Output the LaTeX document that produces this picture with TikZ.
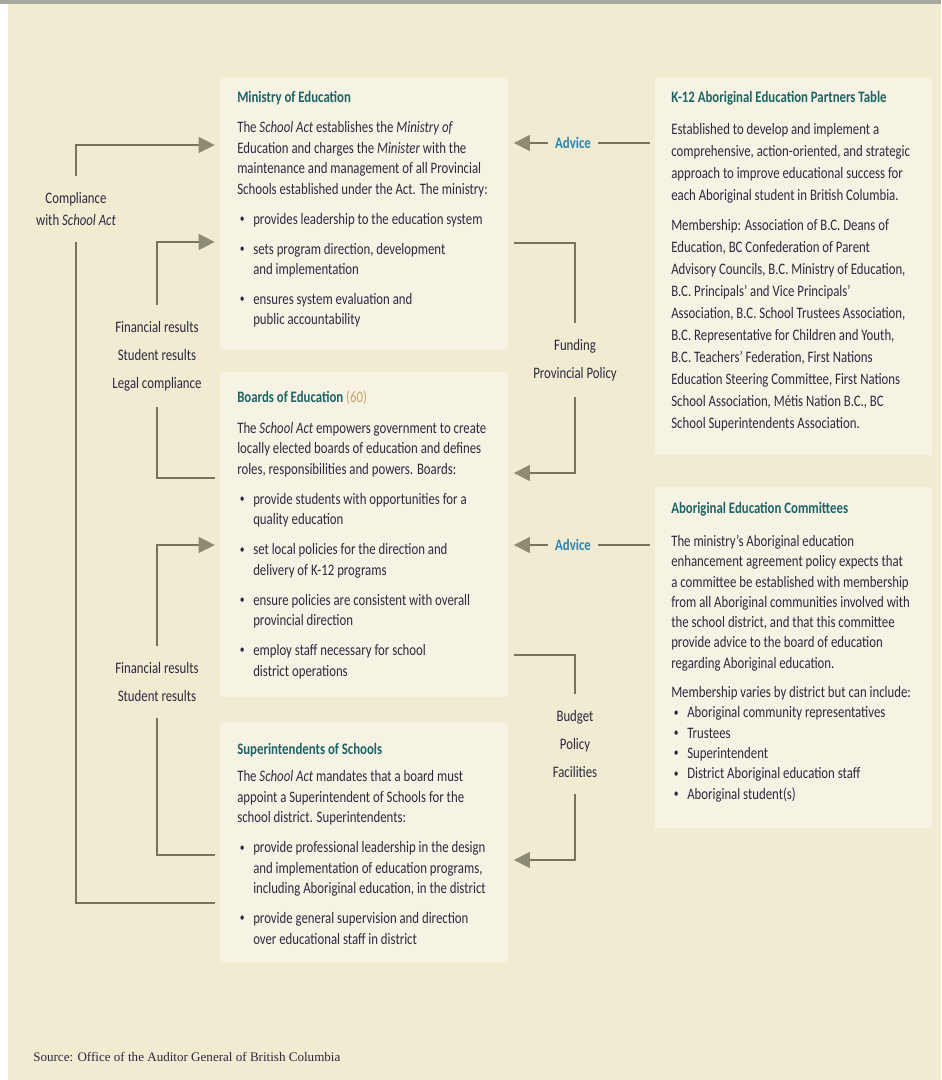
\documentclass[tikz,border=0pt]{standalone}
\usepackage{fontspec}
\setmainfont{Carlito}[FakeStretch=0.8]
\newfontfamily\srcfont{Liberation Serif}
\usetikzlibrary{arrows.meta}

\definecolor{pagebg}{HTML}{F1EBD1}
\definecolor{boxbg}{HTML}{F7F3E4}
\definecolor{topbar}{HTML}{A9A89E}
\definecolor{linec}{HTML}{77735E}
\definecolor{tipc}{HTML}{8E8B74}
\definecolor{bodyc}{HTML}{2B2A40}
\definecolor{titlec}{HTML}{1C6466}
\definecolor{advc}{HTML}{2B85B3}
\definecolor{numc}{HTML}{C5A26C}

\newcommand{\bul}{\hspace*{2pt}\makebox[10pt][l]{\raisebox{0.2ex}{\scalebox{0.75}{\textbullet}}}}
\newcommand{\ind}{\hspace*{12pt}}

\begin{document}
\begin{tikzpicture}[x=0.75pt,y=-0.75pt]
    \tikzstyle{box}=[fill=boxbg, anchor=north west, inner sep=0pt]
    \tikzstyle{ttl}=[anchor=base west, inner sep=0pt, text=titlec, font=\fontsize{12pt}{14pt}\selectfont\bfseries]
    \tikzstyle{txt}=[anchor=base west, align=left, inner sep=0pt, text=bodyc, font=\fontsize{12pt}{15.4pt}\selectfont]
    \tikzstyle{lbl}=[align=center, inner xsep=3pt, inner ysep=12pt, text=bodyc, font=\fontsize{12pt}{21pt}\selectfont]
    \tikzstyle{adv}=[inner xsep=5pt, inner ysep=2pt, text=advc, font=\fontsize{12pt}{14pt}\selectfont\bfseries]
    \tikzstyle{link}=[draw=linec, line width=0.8pt, shorten <=4pt]
    \tikzstyle{arr}=[draw=linec, line width=0.8pt, shorten >=4pt, -{Triangle[length=12pt,width=12pt,color=tipc,fill=tipc]}]

    \useasboundingbox (0,0) rectangle (941,1080);
    \fill[pagebg] (8,4) rectangle (941,1080);
    \fill[topbar] (0,0) rectangle (941,4);

    \node[box, minimum width=216pt, minimum height=204pt] (min) at (220,78) {};
    \node[box, minimum width=216pt, minimum height=243.75pt] (brd) at (220,372) {};
    \node[box, minimum width=216pt, minimum height=180pt] (sup) at (220,722) {};
    \node[box, minimum width=207.75pt, minimum height=282.75pt] (k12) at (655,78) {};
    \node[box, minimum width=207.75pt, minimum height=255.75pt] (abo) at (655,487) {};

    \node[ttl] (mint) at (237,103) {Ministry of Education};
    \node[txt] (minb) at (237,325) {The \emph{School Act} establishes the \emph{Ministry of}\\
        Education and charges the \emph{Minister} with the\\
        maintenance and management of all Provincial\\
        Schools established under the Act. The ministry:\\[7pt]
        \bul provides leadership to the education system\\[7pt]
        \bul sets program direction, development\\
        \ind and implementation\\[7pt]
        \bul ensures system evaluation and\\
        \ind public accountability};

    \node[ttl] (brdt) at (237,402) {Boards of Education {\mdseries\color{numc}(60)}};
    \node[txt] (brdb) at (237,676) {The \emph{School Act} empowers government to create\\
        locally elected boards of education and defines\\
        roles, responsibilities and powers. Boards:\\[7pt]
        \bul provide students with opportunities for a\\
        \ind quality education\\[7pt]
        \bul set local policies for the direction and\\
        \ind delivery of K-12 programs\\[7pt]
        \bul ensure policies are consistent with overall\\
        \ind provincial direction\\[7pt]
        \bul employ staff necessary for school\\
        \ind district operations};

    \node[ttl] (supt) at (237,754) {Superintendents of Schools};
    \node[txt] (supb) at (237,944) {The \emph{School Act} mandates that a board must\\
        appoint a Superintendent of Schools for the\\
        school district. Superintendents:\\[7pt]
        \bul provide professional leadership in the design\\
        \ind and implementation of education programs,\\
        \ind including Aboriginal education, in the district\\[7pt]
        \bul provide general supervision and direction\\
        \ind over educational staff in district};

    \node[ttl] (k12t) at (671,103) {K-12 Aboriginal Education Partners Table};
    \node[txt, font=\fontsize{12pt}{16.5pt}\selectfont] (k12b) at (671,428) {Established to develop and implement a\\
        comprehensive, action-oriented, and strategic\\
        approach to improve educational success for\\
        each Aboriginal student in British Columbia.\\[6pt]
        Membership: Association of B.C. Deans of\\
        Education, BC Confederation of Parent\\
        Advisory Councils, B.C. Ministry of Education,\\
        B.C. Principals' and Vice Principals'\\
        Association, B.C. School Trustees Association,\\
        B.C. Representative for Children and Youth,\\
        B.C. Teachers' Federation, First Nations\\
        Education Steering Committee, First Nations\\
        School Association, Métis Nation B.C., BC\\
        School Superintendents Association.};

    \node[ttl] (abot) at (671,513) {Aboriginal Education Committees};
    \node[txt, font=\fontsize{12pt}{15.2pt}\selectfont] (abob) at (671,799) {The ministry's Aboriginal education\\
        enhancement agreement policy expects that\\
        a committee be established with membership\\
        from all Aboriginal communities involved with\\
        the school district, and that this committee\\
        provide advice to the board of education\\
        regarding Aboriginal education.\\[7pt]
        Membership varies by district but can include:\\
        \bul Aboriginal community representatives\\
        \bul Trustees\\
        \bul Superintendent\\
        \bul District Aboriginal education staff\\
        \bul Aboriginal student(s)};

    \node[lbl, font=\fontsize{12pt}{16.5pt}\selectfont] (cmp) at (76,209) {Compliance\\with \emph{School Act}};
    \node[lbl] (res1) at (157,356) {Financial results\\Student results\\Legal compliance};
    \node[lbl] (res2) at (157,682) {Financial results\\Student results};
    \node[lbl] (fund) at (575,360) {Funding\\Provincial Policy};
    \node[lbl] (bud) at (575,744) {Budget\\Policy\\Facilities};
    \node[adv] (adv1) at (573,143) {Advice};
    \node[adv] (adv2) at (573,545) {Advice};

    \draw[link] (sup.west |- 0,903) -| (cmp);
    \draw[arr] (cmp) |- (min.west |- 0,145);
    \draw[link] (brd.west |- 0,478) -| (res1);
    \draw[arr] (res1) |- (min.west |- 0,242);
    \draw[link] (sup.west |- 0,855) -| (res2);
    \draw[arr] (res2) |- (brd.west |- 0,545);
    \draw[link] (min.east |- 0,243) -| (fund);
    \draw[arr] (fund) |- (brd.east |- 0,473);
    \draw[link] (brd.east |- 0,655) -| (bud);
    \draw[arr] (bud) |- (sup.east |- 0,860);
    \draw[link] (k12.west |- adv1) -- (adv1);
    \draw[arr] (adv1) -- (min.east |- adv1);
    \draw[link] (abo.west |- adv2) -- (adv2);
    \draw[arr] (adv2) -- (brd.east |- adv2);

    \node[anchor=base west, inner sep=0pt, text=bodyc, font=\srcfont\fontsize{9.8pt}{11pt}\selectfont] (src) at (33,1061) {Source: Office of the Auditor General of British Columbia};
\end{tikzpicture}
\end{document}
